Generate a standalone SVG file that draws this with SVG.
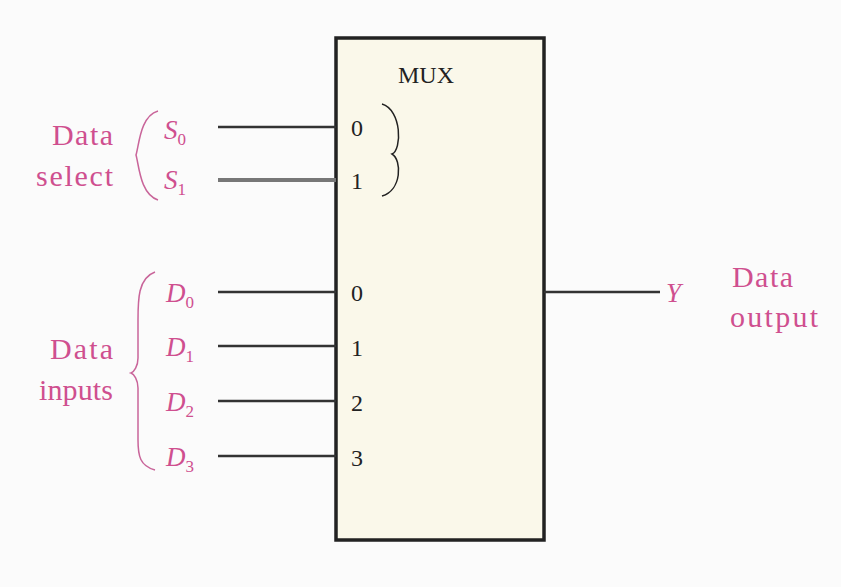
<svg xmlns="http://www.w3.org/2000/svg" width="841" height="587" viewBox="0 0 841 587">
<style>
.lbl{font-family:"Liberation Serif",serif;font-size:30px;fill:#cf4f8f}
.it{font-style:italic;font-size:27px}
.sub{font-size:17px;font-style:normal}
.pin{font-family:"Liberation Serif",serif;font-size:24px;fill:#222}
.w{stroke:#333;stroke-width:2.5;fill:none}
.br{stroke:#c9659a;stroke-width:1.5;fill:none}
</style>
<rect width="841" height="587" fill="#fbfbfb"/>
<g id="mux">
<rect x="336" y="38" width="208" height="502" fill="#faf8ea" stroke="#222" stroke-width="3.5"/>
<text class="pin" x="398" y="83">MUX</text>
<text class="pin" x="351" y="136">0</text>
<text class="pin" x="351" y="189">1</text>
<path d="M382,104 C402,110 402,150 392,154 C402,160 402,190 382,196" stroke="#222" stroke-width="1.5" fill="none"/>
<text class="pin" x="351" y="301">0</text>
<text class="pin" x="351" y="356">1</text>
<text class="pin" x="351" y="411">2</text>
<text class="pin" x="351" y="466">3</text>
</g>
<g id="select-label">
<text class="lbl" x="52" y="145" textLength="61">Data</text>
<text class="lbl" x="36" y="186" textLength="77">select</text>
<path class="br" d="M158,111 C140,116 139,146 136,155 C139,165 140,194 158,200"/>
<text class="lbl it" x="164" y="139">S<tspan class="sub" dy="6">0</tspan></text>
<text class="lbl it" x="164" y="189">S<tspan class="sub" dy="6">1</tspan></text>
</g>
<g id="inputs-label">
<text class="lbl" x="50" y="359" textLength="63">Data</text>
<text class="lbl" x="39" y="400" textLength="74">inputs</text>
<path class="br" d="M155,272 C138,278 138,300 138,320 L138,358 C138,366 134,372 131,373 C134,374 138,380 138,388 L138,440 C138,456 140,466 155,470"/>
<text class="lbl it" x="166" y="302">D<tspan class="sub" dy="6">0</tspan></text>
<text class="lbl it" x="166" y="356">D<tspan class="sub" dy="6">1</tspan></text>
<text class="lbl it" x="166" y="411">D<tspan class="sub" dy="6">2</tspan></text>
<text class="lbl it" x="166" y="466">D<tspan class="sub" dy="6">3</tspan></text>
</g>
<g id="output-label">
<text class="lbl it" x="666" y="302">Y</text>
<text class="lbl" x="732" y="287" textLength="61">Data</text>
<text class="lbl" x="730" y="327" textLength="88">output</text>
</g>
<g id="connectors">
<line class="w" x1="218" y1="127" x2="336" y2="127"/>
<line x1="218" y1="180" x2="336" y2="180" stroke="#777" stroke-width="4"/>
<line class="w" x1="218" y1="292" x2="336" y2="292"/>
<line class="w" x1="218" y1="346" x2="336" y2="346"/>
<line class="w" x1="218" y1="401" x2="336" y2="401"/>
<line class="w" x1="218" y1="456" x2="336" y2="456"/>
<line class="w" x1="544" y1="292" x2="660" y2="292"/>
</g>
</svg>
